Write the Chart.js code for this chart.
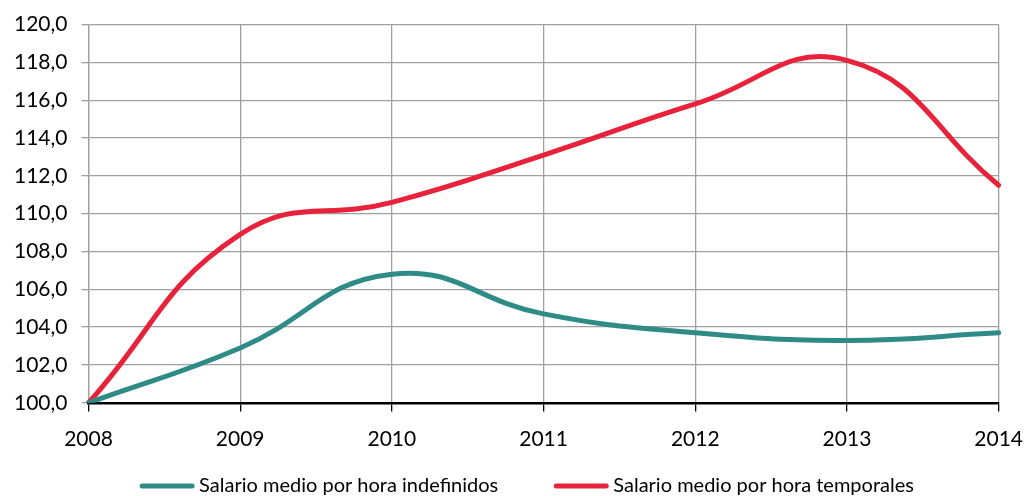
<!DOCTYPE html>
<html>
<head>
<meta charset="utf-8">
<script src="https://cdn.jsdelivr.net/npm/chart.js@4/dist/chart.umd.min.js"></script>
<style>
  html, body { margin: 0; padding: 0; background: #fff; }
  #wrap { width: 1025px; height: 496px; }
</style>
</head>
<body>
<div id="wrap"><canvas id="chart"></canvas></div>
<script>
const years = ['2008', '2009', '2010', '2011', '2012', '2013', '2014'];
const indefinidos = [100.0, 102.9, 106.8, 104.7, 103.7, 103.3, 103.7];
const temporales = [100.0, 108.9, 110.6, 113.1, 115.8, 118.1, 111.5];

const TEAL = '#2e8b86';
const RED = '#e8223a';
const FONT = 'Lato';

// leyenda propia: línea + texto, centrada bajo el gráfico
const bottomLegend = {
  id: 'bottomLegend',
  afterDraw(chart) {
    const c = chart.ctx;
    const lineW = 56, gap = 4, spacing = 55, y = 486;
    c.save();
    c.font = `20px ${FONT}`;
    c.textBaseline = 'middle';
    const items = chart.data.datasets.map(ds => ({
      text: ds.label, color: ds.borderColor, w: c.measureText(ds.label).width
    }));
    const total = items.reduce((s, it) => s + lineW + gap + it.w, 0) + spacing * (items.length - 1);
    let x = chart.width / 2 + 14 - total / 2;
    items.forEach(it => {
      c.strokeStyle = it.color;
      c.lineWidth = 5;
      c.lineCap = 'round';
      c.beginPath();
      c.moveTo(x + 3, y);
      c.lineTo(x + lineW - 3, y);
      c.stroke();
      c.fillStyle = '#000';
      c.fillText(it.text, x + lineW + gap, y);
      x += lineW + gap + it.w + spacing;
    });
    c.restore();
  }
};

const ctx = document.getElementById('chart').getContext('2d');
new Chart(ctx, {
  type: 'line',
  data: {
    labels: years,
    datasets: [
      {
        label: 'Salario medio por hora indefinidos',
        data: indefinidos,
        borderColor: TEAL,
        backgroundColor: TEAL,
        borderWidth: 5,
        borderCapStyle: 'round',
        pointRadius: 0,
        tension: 0.45
      },
      {
        label: 'Salario medio por hora temporales',
        data: temporales,
        borderColor: RED,
        backgroundColor: RED,
        borderWidth: 5,
        borderCapStyle: 'round',
        pointRadius: 0,
        tension: 0.45
      }
    ]
  },
  plugins: [bottomLegend],
  options: {
    responsive: true,
    maintainAspectRatio: false,
    animation: false,
    layout: { padding: { top: 4, right: 0, left: 0, bottom: 42 } },
    plugins: {
      legend: { display: false },
      tooltip: { enabled: false }
    },
    scales: {
      x: {
        offset: false,
        // marca corta bajo el eje: tickLength largo para bajar las etiquetas, guion de 7px
        grid: { color: '#a0a0a0', lineWidth: 1.3, tickLength: 22, tickColor: '#000', tickBorderDash: [7, 100] },
        border: { color: '#000', width: 2.5 },
        ticks: { color: '#000', padding: 2, maxRotation: 0, font: { family: FONT, size: 21 } }
      },
      y: {
        min: 100,
        max: 120,
        grid: { color: '#a0a0a0', lineWidth: 1.3, tickLength: 7 },
        border: { color: '#a0a0a0', width: 1.3 },
        ticks: {
          stepSize: 2,
          color: '#000',
          padding: 14,
          font: { family: FONT, size: 21, lineHeight: 1 },
          callback: v => v.toFixed(1).replace('.', ',')
        }
      }
    }
  }
});
</script>
</body>
</html>
